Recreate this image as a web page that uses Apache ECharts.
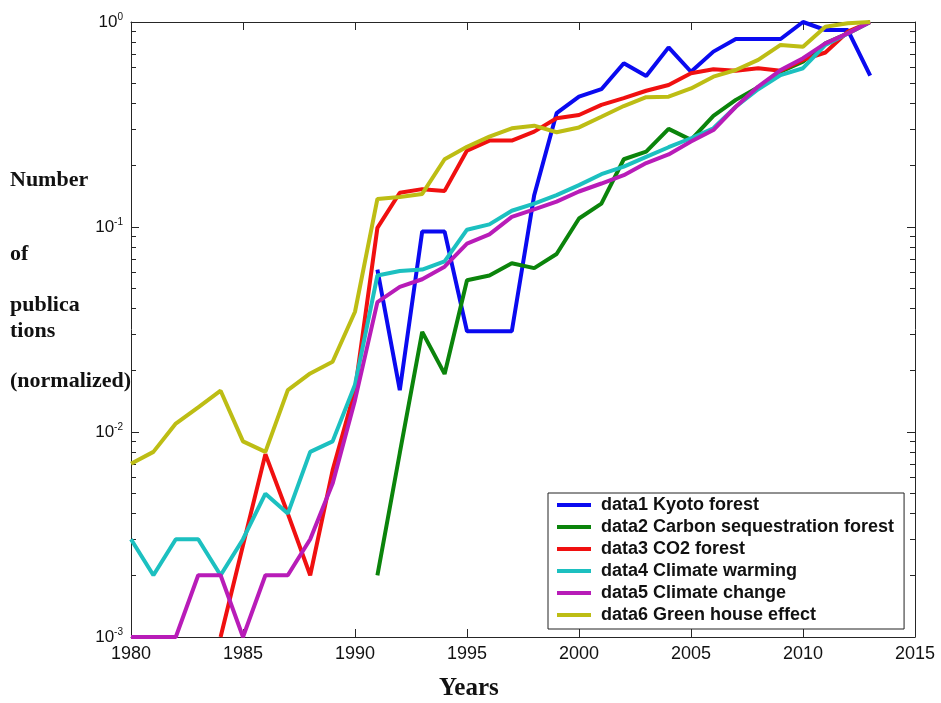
<!DOCTYPE html>
<html>
<head>
<meta charset="utf-8">
<script src="https://cdn.jsdelivr.net/npm/echarts@6/dist/echarts.min.js"></script>
<style>html,body{margin:0;padding:0;background:#fff}#c{width:941px;height:703px}</style>
</head>
<body>
<div id="c"></div>
<script>
// Years 1980..2013
var years = [];
for (var yr = 1980; yr <= 2013; yr++) years.push(yr);

var seriesNames = ['data1 Kyoto forest','data2 Carbon sequestration forest','data3 CO2 forest','data4 Climate warming','data5 Climate change','data6 Green house effect'];
var seriesColors = ['#0a0af0','#0b840b','#f01010','#1cc0c0','#b81cb8','#bdbd14'];

// values per year (null = no data)
var data1 = [null,null,null,null,null,null,null,null,null,null,null,
  0.062,0.016,0.095,0.095,0.031,0.031,0.031,0.143,0.359,0.432,0.47,0.629,0.545,0.752,0.572,0.717,0.826,0.826,0.826,1.0,0.914,0.914,0.547];
var data2 = [null,null,null,null,null,null,null,null,null,null,null,
  0.002,0.0079,0.0308,0.0192,0.055,0.058,0.0665,0.063,0.0738,0.110,0.130,0.214,0.233,0.301,0.266,0.348,0.417,0.48,0.572,0.64,0.787,0.88,1.0];
var data3 = [null,null,null,null,0.001,0.0028,0.0078,0.004,0.002,0.0065,0.016,
  0.099,0.147,0.153,0.150,0.236,0.264,0.264,0.292,0.339,0.352,0.394,0.425,0.462,0.493,0.562,0.588,0.578,0.595,0.578,0.653,0.71,0.897,1.0];
var data4 = [0.003,0.002,0.003,0.003,0.002,0.003,0.005,0.004,0.008,0.009,0.017,
  0.058,0.061,0.062,0.068,0.097,0.103,0.12,0.13,0.143,0.16,0.181,0.197,0.22,0.245,0.271,0.303,0.386,0.47,0.551,0.595,0.773,0.88,1.0];
var data5 = [0.001,0.001,0.001,0.002,0.002,0.001,0.002,0.002,0.003,0.0056,0.0143,
  0.043,0.051,0.0556,0.064,0.083,0.092,0.112,0.122,0.133,0.149,0.163,0.179,0.205,0.226,0.261,0.297,0.386,0.484,0.583,0.666,0.787,0.88,1.0];
var data6 = [0.007,0.008,0.011,0.0132,0.0159,0.009,0.008,0.016,0.0193,0.022,0.0386,
  0.137,0.14,0.145,0.214,0.246,0.276,0.303,0.312,0.29,0.306,0.345,0.389,0.43,0.432,0.474,0.541,0.583,0.653,0.773,0.758,0.948,0.985,1.0];

var xTicks = [1980,1985,1990,1995,2000,2005,2010,2015];
var yMajor = [0.001,0.01,0.1,1];
var yMinor = [];
[0.001,0.01,0.1].forEach(function(d){ for (var k=2;k<=9;k++) yMinor.push(+(d*k).toPrecision(3)); });

var yTitleLines = ['Number','of','publica','tions','(normalized)'];
var yTitleY = [181,255,306,332,382];
var xTitle = 'Years';

var allData = [data1,data2,data3,data4,data5,data6];

var chart = echarts.init(document.getElementById('c'), null, {renderer:'canvas'});
var axisColor = '#262626';

function yAxisBase(pos, ticks, len, showLabel, showLine){
  return {
    type:'log', logBase:10, min:0.001, max:1, position:pos,
    axisLine:{show:showLine, lineStyle:{color:axisColor, width:1}},
    axisTick:{show:true, inside:true, length:len, customValues:ticks, lineStyle:{color:axisColor}},
    axisLabel:{show:showLabel, customValues:ticks, margin:8, fontFamily:'Liberation Sans, Arial', fontSize:16, color:'#111',
      formatter:function(v){ var e = Math.round(Math.log10(v)); return '{b|10}{s|' + e + '}'; },
      rich:{b:{fontSize:17, fontFamily:'Liberation Sans, Arial', color:'#111'}, s:{fontSize:10, fontFamily:'Liberation Sans, Arial', color:'#111', verticalAlign:'top', padding:[0,0,10,0]}}},
    splitLine:{show:false}, minorTick:{show:false}
  };
}

var option = {
  backgroundColor:'#fff',
  animation:false,
  grid:{left:131, right:26, top:22, bottom:66, containLabel:false},
  xAxis:[
    {type:'value', min:1980, max:2015, interval:5, position:'bottom',
     axisLine:{show:true, onZero:false, lineStyle:{color:axisColor, width:1}},
     axisTick:{show:true, inside:true, length:8, customValues:xTicks, lineStyle:{color:axisColor}},
     axisLabel:{show:true, margin:8, customValues:xTicks, fontFamily:'Liberation Sans, Arial', fontSize:18, color:'#111',
       formatter:function(v){ return String(v); }},
     splitLine:{show:false}},
    {type:'value', min:1980, max:2015, interval:5, position:'top',
     axisLine:{show:true, onZero:false, lineStyle:{color:axisColor, width:1}},
     axisTick:{show:true, inside:true, length:8, customValues:xTicks, lineStyle:{color:axisColor}},
     axisLabel:{show:false}, splitLine:{show:false}}
  ],
  yAxis:[
    yAxisBase('left', yMajor, 8, true, true),
    yAxisBase('left', yMinor, 5, false, false),
    yAxisBase('right', yMajor, 8, false, true),
    yAxisBase('right', yMinor, 5, false, false)
  ],
  legend:{
    show:true, orient:'vertical', left:548, top:493,
    backgroundColor:'#fff', borderColor:'#222', borderWidth:1, borderRadius:0,
    padding:[1,10,3,9], itemGap:0, itemWidth:34, itemHeight:4,
    icon:'rect',
    textStyle:{fontFamily:'Liberation Sans, Arial', fontWeight:'bold', fontSize:18, color:'#111', lineHeight:22, padding:[0,0,0,5]},
    data:seriesNames
  },
  graphic: yTitleLines.map(function(t,i){
    return {type:'text', left:10, top:yTitleY[i]-12, style:{text:t, font:'bold 22px "Liberation Serif", "Times New Roman", serif', fill:'#111'}};
  }).concat([{type:'text', left:439, top:676, style:{text:xTitle, font:'bold 25px "Liberation Serif", "Times New Roman", serif', fill:'#111'}}]),
  series: allData.map(function(arr, i){
    return {
      name:seriesNames[i], type:'line', xAxisIndex:0, yAxisIndex:0,
      data: years.map(function(y, j){ return arr[j] == null ? [y, null] : [y, arr[j]]; }),
      showSymbol:false, symbol:'none', connectNulls:false, clip:false,
      lineStyle:{width:4, color:seriesColors[i]}, itemStyle:{color:seriesColors[i]},
      emphasis:{disabled:true}
    };
  })
};
chart.setOption(option);
</script>
</body>
</html>
